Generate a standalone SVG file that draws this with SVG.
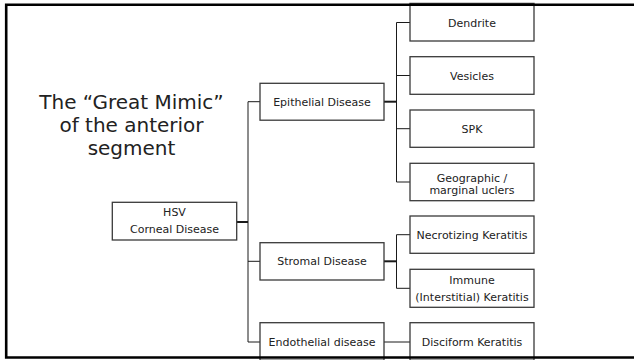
<svg xmlns="http://www.w3.org/2000/svg" width="634" height="360" viewBox="0 0 634 360">
  <style>
    .box { fill: #ffffff; stroke: #3a3a3a; stroke-width: 1.3; }
    .lbl { font-family: "DejaVu Sans", "Liberation Sans", sans-serif; font-size: 11px; fill: #222222; text-anchor: middle; }
    .title { font-family: "DejaVu Sans", "Liberation Sans", sans-serif; font-size: 20px; fill: #222222; text-anchor: middle; }
    .thin { stroke: #1a1a1a; stroke-width: 1; fill: none; }
    .thick { stroke: #1a1a1a; stroke-width: 2; fill: none; }
  </style>
  <rect width="634" height="360" fill="#ffffff"/>

  <!-- title text -->
  <g id="title">
    <text class="title" x="131.5" y="108.5">The “Great Mimic”</text>
    <text class="title" x="131.5" y="132">of the anterior</text>
    <text class="title" x="131.5" y="155">segment</text>
  </g>

  <!-- connectors -->
  <g id="connectors">
    <line class="thick" x1="236.7" y1="222" x2="248" y2="222"/>
    <line class="thin" x1="248" y1="101.7" x2="248" y2="342"/>
    <line class="thin" x1="248" y1="101.7" x2="260" y2="101.7"/>
    <line class="thin" x1="248" y1="261.3" x2="260" y2="261.3"/>
    <line class="thin" x1="248" y1="342" x2="260" y2="342"/>

    <line class="thick" x1="384" y1="101.7" x2="396.5" y2="101.7"/>
    <line class="thin" x1="396.5" y1="22.5" x2="396.5" y2="182"/>
    <line class="thin" x1="396.5" y1="22.5" x2="410" y2="22.5"/>
    <line class="thin" x1="396.5" y1="75.5" x2="410" y2="75.5"/>
    <line class="thin" x1="396.5" y1="128.7" x2="410" y2="128.7"/>
    <line class="thin" x1="396.5" y1="182" x2="410" y2="182"/>

    <line class="thick" x1="384" y1="261.3" x2="396.5" y2="261.3"/>
    <line class="thin" x1="396.5" y1="234.7" x2="396.5" y2="288.3"/>
    <line class="thin" x1="396.5" y1="234.7" x2="410" y2="234.7"/>
    <line class="thin" x1="396.5" y1="288.3" x2="410" y2="288.3"/>

    <line class="thin" x1="384" y1="342" x2="410" y2="342"/>
  </g>

  <!-- root node -->
  <g id="hsv">
    <rect class="box" x="112.3" y="202.3" width="124.4" height="37.7"/>
    <text class="lbl" x="174.5" y="215.5">HSV</text>
    <text class="lbl" x="174.5" y="233">Corneal Disease</text>
  </g>

  <!-- second level -->
  <g id="epithelial">
    <rect class="box" x="260" y="83.3" width="124" height="36.9"/>
    <text class="lbl" x="322" y="105.5">Epithelial Disease</text>
  </g>
  <g id="stromal">
    <rect class="box" x="260" y="242.7" width="124" height="37.3"/>
    <text class="lbl" x="322" y="265">Stromal Disease</text>
  </g>
  <g id="endothelial">
    <rect class="box" x="260" y="322.7" width="124" height="37.5"/>
    <text class="lbl" x="322" y="346">Endothelial disease</text>
  </g>

  <!-- third level -->
  <g id="dendrite">
    <rect class="box" x="410" y="3.4" width="124" height="37.6"/>
    <text class="lbl" x="472" y="26.5">Dendrite</text>
  </g>
  <g id="vesicles">
    <rect class="box" x="410" y="56.7" width="124" height="37.6"/>
    <text class="lbl" x="472" y="79.5">Vesicles</text>
  </g>
  <g id="spk">
    <rect class="box" x="410" y="110" width="124" height="37.3"/>
    <text class="lbl" x="472" y="132.5">SPK</text>
  </g>
  <g id="geographic">
    <rect class="box" x="410" y="163.3" width="124" height="37.4"/>
    <text class="lbl" x="472" y="181.5">Geographic /</text>
    <text class="lbl" x="472" y="194">marginal uclers</text>
  </g>
  <g id="necrotizing">
    <rect class="box" x="410" y="216" width="124" height="37.3"/>
    <text class="lbl" x="472" y="239">Necrotizing Keratitis</text>
  </g>
  <g id="immune">
    <rect class="box" x="410" y="269.3" width="124" height="38"/>
    <text class="lbl" x="472" y="283.5">Immune</text>
    <text class="lbl" x="472" y="300.7">(Interstitial) Keratitis</text>
  </g>
  <g id="disciform">
    <rect class="box" x="410" y="322.7" width="124" height="37.5"/>
    <text class="lbl" x="472" y="346">Disciform Keratitis</text>
  </g>

  <!-- slide frame, open on the right -->
  <path d="M 640 4.8 H 6.2 V 357.5 H 640" fill="none" stroke="#000000" stroke-width="2.6"/>
</svg>
